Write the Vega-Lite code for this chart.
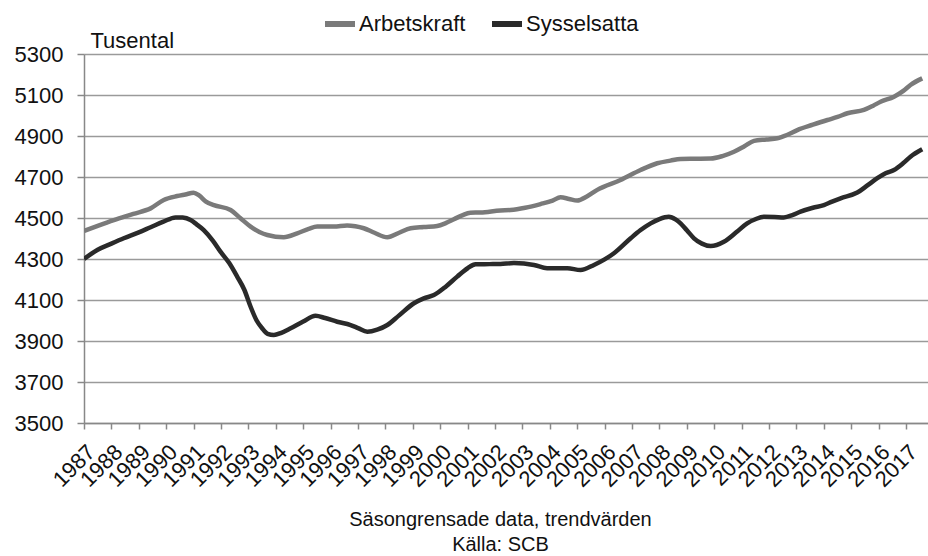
{
  "$schema": "https://vega.github.io/schema/vega-lite/v6.json",
  "width": 844,
  "height": 369,
  "autosize": {"type": "none"},
  "padding": {"left": 84, "top": 54, "right": 0, "bottom": 133},
  "background": "white",
  "config": {
    "view": {"stroke": null},
    "font": "Liberation Sans",
    "axis": {"labelFont": "Liberation Sans", "titleFont": "Liberation Sans", "labelColor": "#111", "titleColor": "#111", "titleFontWeight": "normal", "domainColor": "#888", "domainWidth": 1.5, "tickColor": "#888", "tickWidth": 1.5, "gridColor": "#9a9a9a", "gridWidth": 1.5}
  },
  "data": {"values": [
    {"serie":"Arbetskraft","ar":1987.0,"tusental":4437},
    {"serie":"Arbetskraft","ar":1987.5,"tusental":4462},
    {"serie":"Arbetskraft","ar":1988.09,"tusental":4490},
    {"serie":"Arbetskraft","ar":1988.8,"tusental":4520},
    {"serie":"Arbetskraft","ar":1989.43,"tusental":4547},
    {"serie":"Arbetskraft","ar":1989.91,"tusental":4588},
    {"serie":"Arbetskraft","ar":1990.4,"tusental":4607},
    {"serie":"Arbetskraft","ar":1990.7,"tusental":4615},
    {"serie":"Arbetskraft","ar":1991.0,"tusental":4623},
    {"serie":"Arbetskraft","ar":1991.2,"tusental":4610},
    {"serie":"Arbetskraft","ar":1991.45,"tusental":4580},
    {"serie":"Arbetskraft","ar":1991.74,"tusental":4563},
    {"serie":"Arbetskraft","ar":1992.35,"tusental":4539},
    {"serie":"Arbetskraft","ar":1992.7,"tusental":4500},
    {"serie":"Arbetskraft","ar":1993.08,"tusental":4458},
    {"serie":"Arbetskraft","ar":1993.4,"tusental":4432},
    {"serie":"Arbetskraft","ar":1993.69,"tusental":4417},
    {"serie":"Arbetskraft","ar":1994.29,"tusental":4406},
    {"serie":"Arbetskraft","ar":1994.78,"tusental":4425},
    {"serie":"Arbetskraft","ar":1995.2,"tusental":4447},
    {"serie":"Arbetskraft","ar":1995.51,"tusental":4458},
    {"serie":"Arbetskraft","ar":1996.12,"tusental":4458},
    {"serie":"Arbetskraft","ar":1996.6,"tusental":4464},
    {"serie":"Arbetskraft","ar":1996.9,"tusental":4460},
    {"serie":"Arbetskraft","ar":1997.21,"tusental":4450},
    {"serie":"Arbetskraft","ar":1997.6,"tusental":4428},
    {"serie":"Arbetskraft","ar":1998.07,"tusental":4406},
    {"serie":"Arbetskraft","ar":1998.5,"tusental":4428},
    {"serie":"Arbetskraft","ar":1998.92,"tusental":4450},
    {"serie":"Arbetskraft","ar":1999.4,"tusental":4456},
    {"serie":"Arbetskraft","ar":1999.89,"tusental":4461},
    {"serie":"Arbetskraft","ar":2000.2,"tusental":4475},
    {"serie":"Arbetskraft","ar":2000.5,"tusental":4494},
    {"serie":"Arbetskraft","ar":2000.8,"tusental":4513},
    {"serie":"Arbetskraft","ar":2001.1,"tusental":4526},
    {"serie":"Arbetskraft","ar":2001.47,"tusental":4527},
    {"serie":"Arbetskraft","ar":2002.2,"tusental":4537},
    {"serie":"Arbetskraft","ar":2002.56,"tusental":4539},
    {"serie":"Arbetskraft","ar":2003.1,"tusental":4550},
    {"serie":"Arbetskraft","ar":2003.66,"tusental":4568},
    {"serie":"Arbetskraft","ar":2004.1,"tusental":4585},
    {"serie":"Arbetskraft","ar":2004.39,"tusental":4601},
    {"serie":"Arbetskraft","ar":2004.7,"tusental":4593},
    {"serie":"Arbetskraft","ar":2005.0,"tusental":4585},
    {"serie":"Arbetskraft","ar":2005.35,"tusental":4605},
    {"serie":"Arbetskraft","ar":2005.73,"tusental":4637},
    {"serie":"Arbetskraft","ar":2006.58,"tusental":4685},
    {"serie":"Arbetskraft","ar":2007.31,"tusental":4734},
    {"serie":"Arbetskraft","ar":2007.92,"tusental":4767},
    {"serie":"Arbetskraft","ar":2008.4,"tusental":4780},
    {"serie":"Arbetskraft","ar":2008.77,"tusental":4788},
    {"serie":"Arbetskraft","ar":2009.3,"tusental":4789},
    {"serie":"Arbetskraft","ar":2009.87,"tusental":4790},
    {"serie":"Arbetskraft","ar":2010.3,"tusental":4802},
    {"serie":"Arbetskraft","ar":2010.72,"tusental":4823},
    {"serie":"Arbetskraft","ar":2011.1,"tusental":4850},
    {"serie":"Arbetskraft","ar":2011.45,"tusental":4876},
    {"serie":"Arbetskraft","ar":2011.9,"tusental":4883},
    {"serie":"Arbetskraft","ar":2012.3,"tusental":4889},
    {"serie":"Arbetskraft","ar":2012.65,"tusental":4905},
    {"serie":"Arbetskraft","ar":2013.03,"tusental":4929},
    {"serie":"Arbetskraft","ar":2013.6,"tusental":4955},
    {"serie":"Arbetskraft","ar":2014.13,"tusental":4978},
    {"serie":"Arbetskraft","ar":2014.5,"tusental":4993},
    {"serie":"Arbetskraft","ar":2014.86,"tusental":5011},
    {"serie":"Arbetskraft","ar":2015.46,"tusental":5027},
    {"serie":"Arbetskraft","ar":2015.8,"tusental":5048},
    {"serie":"Arbetskraft","ar":2016.07,"tusental":5067},
    {"serie":"Arbetskraft","ar":2016.56,"tusental":5092},
    {"serie":"Arbetskraft","ar":2016.9,"tusental":5120},
    {"serie":"Arbetskraft","ar":2017.16,"tusental":5149},
    {"serie":"Arbetskraft","ar":2017.59,"tusental":5181},
    {"serie":"Sysselsatta","ar":1987.0,"tusental":4300},
    {"serie":"Sysselsatta","ar":1987.5,"tusental":4345},
    {"serie":"Sysselsatta","ar":1988.0,"tusental":4375},
    {"serie":"Sysselsatta","ar":1988.45,"tusental":4401},
    {"serie":"Sysselsatta","ar":1989.0,"tusental":4430},
    {"serie":"Sysselsatta","ar":1989.43,"tusental":4455},
    {"serie":"Sysselsatta","ar":1989.9,"tusental":4482},
    {"serie":"Sysselsatta","ar":1990.34,"tusental":4503},
    {"serie":"Sysselsatta","ar":1990.6,"tusental":4502},
    {"serie":"Sysselsatta","ar":1990.89,"tusental":4490},
    {"serie":"Sysselsatta","ar":1991.1,"tusental":4470},
    {"serie":"Sysselsatta","ar":1991.37,"tusental":4441},
    {"serie":"Sysselsatta","ar":1991.7,"tusental":4390},
    {"serie":"Sysselsatta","ar":1991.98,"tusental":4336},
    {"serie":"Sysselsatta","ar":1992.3,"tusental":4280},
    {"serie":"Sysselsatta","ar":1992.59,"tusental":4214},
    {"serie":"Sysselsatta","ar":1992.85,"tusental":4150},
    {"serie":"Sysselsatta","ar":1993.08,"tusental":4067},
    {"serie":"Sysselsatta","ar":1993.3,"tusental":4000},
    {"serie":"Sysselsatta","ar":1993.5,"tusental":3962},
    {"serie":"Sysselsatta","ar":1993.7,"tusental":3935},
    {"serie":"Sysselsatta","ar":1993.93,"tusental":3929},
    {"serie":"Sysselsatta","ar":1994.2,"tusental":3940},
    {"serie":"Sysselsatta","ar":1994.54,"tusental":3962},
    {"serie":"Sysselsatta","ar":1995.0,"tusental":3995},
    {"serie":"Sysselsatta","ar":1995.45,"tusental":4023},
    {"serie":"Sysselsatta","ar":1995.8,"tusental":4012},
    {"serie":"Sysselsatta","ar":1996.24,"tusental":3994},
    {"serie":"Sysselsatta","ar":1996.73,"tusental":3978},
    {"serie":"Sysselsatta","ar":1997.0,"tusental":3963},
    {"serie":"Sysselsatta","ar":1997.34,"tusental":3945},
    {"serie":"Sysselsatta","ar":1997.7,"tusental":3955},
    {"serie":"Sysselsatta","ar":1998.07,"tusental":3978},
    {"serie":"Sysselsatta","ar":1998.5,"tusental":4025},
    {"serie":"Sysselsatta","ar":1999.04,"tusental":4084},
    {"serie":"Sysselsatta","ar":1999.4,"tusental":4108},
    {"serie":"Sysselsatta","ar":1999.77,"tusental":4124},
    {"serie":"Sysselsatta","ar":2000.2,"tusental":4165},
    {"serie":"Sysselsatta","ar":2000.62,"tusental":4214},
    {"serie":"Sysselsatta","ar":2001.0,"tusental":4255},
    {"serie":"Sysselsatta","ar":2001.29,"tusental":4274},
    {"serie":"Sysselsatta","ar":2001.8,"tusental":4275},
    {"serie":"Sysselsatta","ar":2002.2,"tusental":4276},
    {"serie":"Sysselsatta","ar":2002.69,"tusental":4280},
    {"serie":"Sysselsatta","ar":2003.42,"tusental":4271},
    {"serie":"Sysselsatta","ar":2003.9,"tusental":4255},
    {"serie":"Sysselsatta","ar":2004.64,"tusental":4255},
    {"serie":"Sysselsatta","ar":2005.12,"tusental":4246},
    {"serie":"Sysselsatta","ar":2005.61,"tusental":4271},
    {"serie":"Sysselsatta","ar":2006.0,"tusental":4298},
    {"serie":"Sysselsatta","ar":2006.34,"tusental":4328},
    {"serie":"Sysselsatta","ar":2006.95,"tusental":4401},
    {"serie":"Sysselsatta","ar":2007.3,"tusental":4440},
    {"serie":"Sysselsatta","ar":2007.68,"tusental":4474},
    {"serie":"Sysselsatta","ar":2008.0,"tusental":4495},
    {"serie":"Sysselsatta","ar":2008.34,"tusental":4506},
    {"serie":"Sysselsatta","ar":2008.6,"tusental":4492},
    {"serie":"Sysselsatta","ar":2008.77,"tusental":4474},
    {"serie":"Sysselsatta","ar":2009.0,"tusental":4440},
    {"serie":"Sysselsatta","ar":2009.26,"tusental":4401},
    {"serie":"Sysselsatta","ar":2009.55,"tusental":4375},
    {"serie":"Sysselsatta","ar":2009.87,"tusental":4363},
    {"serie":"Sysselsatta","ar":2010.35,"tusental":4384},
    {"serie":"Sysselsatta","ar":2010.8,"tusental":4430},
    {"serie":"Sysselsatta","ar":2011.2,"tusental":4474},
    {"serie":"Sysselsatta","ar":2011.5,"tusental":4494},
    {"serie":"Sysselsatta","ar":2011.81,"tusental":4506},
    {"serie":"Sysselsatta","ar":2012.2,"tusental":4505},
    {"serie":"Sysselsatta","ar":2012.54,"tusental":4503},
    {"serie":"Sysselsatta","ar":2012.85,"tusental":4514},
    {"serie":"Sysselsatta","ar":2013.15,"tusental":4531},
    {"serie":"Sysselsatta","ar":2013.6,"tusental":4550},
    {"serie":"Sysselsatta","ar":2014.0,"tusental":4563},
    {"serie":"Sysselsatta","ar":2014.3,"tusental":4580},
    {"serie":"Sysselsatta","ar":2014.61,"tusental":4596},
    {"serie":"Sysselsatta","ar":2015.22,"tusental":4624},
    {"serie":"Sysselsatta","ar":2015.6,"tusental":4660},
    {"serie":"Sysselsatta","ar":2015.95,"tusental":4694},
    {"serie":"Sysselsatta","ar":2016.25,"tusental":4718},
    {"serie":"Sysselsatta","ar":2016.56,"tusental":4734},
    {"serie":"Sysselsatta","ar":2016.9,"tusental":4768},
    {"serie":"Sysselsatta","ar":2017.16,"tusental":4799},
    {"serie":"Sysselsatta","ar":2017.59,"tusental":4835}
  ]},
  "mark": {"type": "line", "strokeWidth": 4.5, "interpolate": "monotone", "clip": true},
  "encoding": {
    "x": {
      "field": "ar", "type": "quantitative",
      "scale": {"domain": [1987, 2017.8], "nice": false, "zero": false},
      "axis": {
        "values": [1987,1988,1989,1990,1991,1992,1993,1994,1995,1996,1997,1998,1999,2000,2001,2002,2003,2004,2005,2006,2007,2008,2009,2010,2011,2012,2013,2014,2015,2016,2017],
        "format": "d", "labelAngle": -45, "labelAlign": "right", "labelBaseline": "top",
        "labelFontSize": 22, "labelPadding": 12, "labelOverlap": false, "labelFlush": false, "labelBound": false,
        "tickSize": 6, "grid": false,
        "title": ["Säsongrensade data, trendvärden", "Källa: SCB"],
        "titleFontSize": 20, "titleLineHeight": 25, "titleX": 416, "titleY": 102,
        "titleAnchor": "middle", "titleAlign": "center", "titleBaseline": "alphabetic"
      }
    },
    "y": {
      "field": "tusental", "type": "quantitative",
      "scale": {"domain": [3500, 5300], "nice": false, "zero": false},
      "axis": {
        "values": [3500,3700,3900,4100,4300,4500,4700,4900,5100,5300],
        "format": "d",
        "labelFontSize": 22, "labelPadding": 14, "tickSize": 7, "grid": true,
        "title": "Tusental", "titleAngle": 0, "titleFontSize": 22, "titleX": 6, "titleY": -7,
        "titleAlign": "left", "titleBaseline": "alphabetic", "titleAnchor": "start"
      }
    },
    "color": {
      "field": "serie", "type": "nominal",
      "scale": {"domain": ["Arbetskraft", "Sysselsatta"], "range": ["#7a7a7a", "#2a2a2a"]},
      "legend": {
        "title": null, "orient": "none", "direction": "horizontal", "legendX": 238, "legendY": -48,
        "symbolType": "stroke", "symbolSize": 900, "symbolStrokeWidth": 6, "labelFontSize": 22,
        "labelColor": "#111", "labelFont": "Liberation Sans", "labelOffset": 1, "columnPadding": 14
      }
    }
  }
}
